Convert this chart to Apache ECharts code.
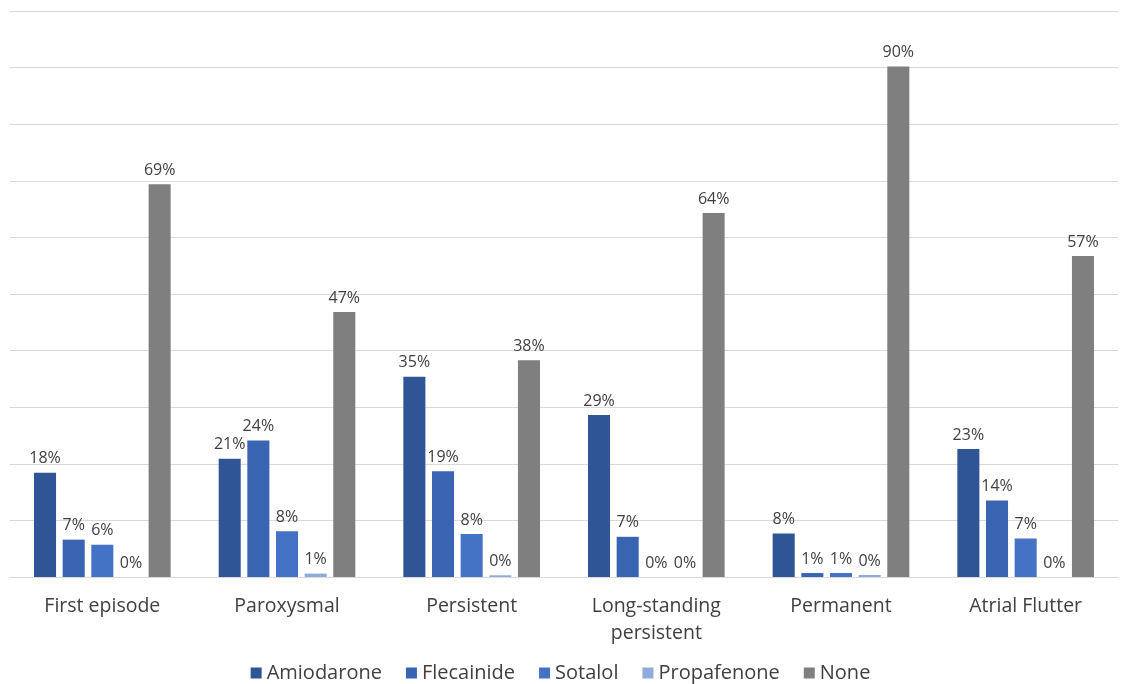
<!DOCTYPE html>
<html>
<head>
<meta charset="utf-8">
<script src="https://cdn.jsdelivr.net/npm/echarts@6/dist/echarts.min.js"></script>
<style>
  html, body { margin: 0; padding: 0; background: #fff; }
  #chart { width: 1121px; height: 684px; }
</style>
</head>
<body>
<div id="chart"></div>
<script>
  // categories of AF type
  const categories = ['First episode', 'Paroxysmal', 'Persistent', 'Long-standing\npersistent', 'Permanent', 'Atrial Flutter']
  const seriesNames = ['Amiodarone', 'Flecainide', 'Sotalol', 'Propafenone', 'None']
  const colors = ['#2F5597', '#3864B2', '#4472C4', '#8FAADC', '#7F7F7F']

  // values (%)
  const amiodarone = [18.4, 20.9, 35.4, 28.6, 7.7, 22.6]
  const flecainide = [6.6, 24.1, 18.7, 7.1, 0.7, 13.5]
  const sotalol = [5.7, 8.1, 7.6, 0, 0.7, 6.8]
  const propafenone = [0, 0.6, 0.3, 0, 0.35, 0]
  const none = [69.4, 46.8, 38.3, 64.3, 90.2, 56.7]

  const seriesData = [amiodarone, flecainide, sotalol, propafenone, none]

  const chart = echarts.init(document.getElementById('chart'))

  function formatSeries() {
    let _arr = []
    for (let i = 0; i < seriesData.length; i++) {
      _arr.push({
        name: seriesNames[i],
        type: 'bar',
        barGap: '30%',
        barCategoryGap: '26%',
        itemStyle: { color: colors[i] },
        label: {
          show: true,
          position: 'top',
          distance: 6,
          color: '#404040',
          fontSize: 16,
          fontFamily: 'Open Sans',
          formatter: p => Math.round(p.value) + '%'
        },
        data: seriesData[i]
      })
    }
    return _arr
  }

  const option = {
    animation: false,
    textStyle: { fontFamily: 'Open Sans' },
    grid: { left: 10, right: 3, top: 11, bottom: 107, containLabel: false },
    legend: {
      data: seriesNames,
      bottom: -4,
      icon: 'rect',
      itemWidth: 11,
      itemHeight: 11,
      itemGap: 24,
      textStyle: { color: '#404040', fontSize: 20, fontFamily: 'Open Sans' }
    },
    xAxis: {
      type: 'category',
      data: categories,
      axisLine: { lineStyle: { color: '#d9d9d9' } },
      axisTick: { show: false },
      axisLabel: {
        color: '#404040',
        fontSize: 19.5,
        margin: 16,
        lineHeight: 27,
        interval: 0,
        fontFamily: 'Open Sans'
      }
    },
    yAxis: {
      type: 'value',
      min: 0,
      max: 100,
      interval: 10,
      axisLabel: { show: false },
      axisLine: { show: false },
      axisTick: { show: false },
      splitLine: { lineStyle: { color: '#d9d9d9' } }
    },
    series: formatSeries()
  }
  chart.setOption(option)
</script>
</body>
</html>
